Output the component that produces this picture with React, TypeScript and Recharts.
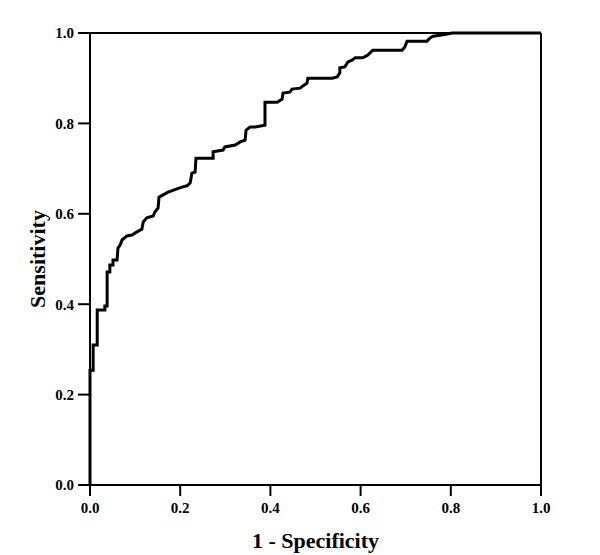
import { type FC } from "react";
import {
  LineChart,
  Line,
  XAxis,
  YAxis,
  ReferenceLine,
} from "recharts";

// ROC curve vertices
const fpr = [
  0, 0, 0.007, 0.007, 0.016, 0.016, 0.033, 0.033, 0.038, 0.038, 0.044, 0.044,
  0.051, 0.051, 0.06, 0.062, 0.067, 0.071, 0.082, 0.093, 0.104, 0.115, 0.118,
  0.126, 0.14, 0.144, 0.151, 0.153, 0.162, 0.173, 0.193, 0.204, 0.215, 0.222,
  0.226, 0.233, 0.235, 0.273, 0.273, 0.295, 0.299, 0.322, 0.333, 0.344, 0.346,
  0.355, 0.366, 0.388, 0.388, 0.415, 0.426, 0.428, 0.443, 0.448, 0.466, 0.472,
  0.481, 0.483, 0.537, 0.548, 0.554, 0.554, 0.565, 0.572, 0.581, 0.588, 0.605,
  0.616, 0.627, 0.692, 0.698, 0.703, 0.747, 0.754, 0.761, 0.783, 0.803, 1,
];
const tpr = [
  0, 0.254, 0.254, 0.31, 0.31, 0.387, 0.387, 0.396, 0.396, 0.471, 0.471, 0.487,
  0.487, 0.498, 0.498, 0.524, 0.531, 0.542, 0.551, 0.553, 0.56, 0.566, 0.582,
  0.591, 0.595, 0.604, 0.613, 0.637, 0.642, 0.648, 0.655, 0.659, 0.662, 0.668,
  0.69, 0.692, 0.723, 0.723, 0.737, 0.741, 0.748, 0.752, 0.759, 0.763, 0.785,
  0.792, 0.792, 0.796, 0.847, 0.847, 0.854, 0.867, 0.869, 0.876, 0.878, 0.883,
  0.889, 0.9, 0.9, 0.903, 0.912, 0.923, 0.925, 0.936, 0.94, 0.945, 0.945,
  0.951, 0.962, 0.962, 0.969, 0.982, 0.982, 0.989, 0.993, 0.996, 1, 1,
];
const ticks = [0, 0.2, 0.4, 0.6, 0.8, 1];

const data = fpr.map((x, i) => ({ fpr: x, tpr: tpr[i] }));

const font = "'Liberation Serif', 'Times New Roman', serif";
const tickStyle = { fill: "#000", fontSize: 15, fontWeight: 700, fontFamily: font };
const line = { stroke: "#000", strokeWidth: 2 };

const XTitle = (props: any) => {
  const vb = props.viewBox;
  return (
    <text
      x={vb.x + vb.width / 2}
      y={vb.y + 63}
      textAnchor="middle"
      fontFamily={font}
      fontWeight={700}
      fontSize={22}
      fill="#000"
    >
      1 - Specificity
    </text>
  );
};

const YTitle = (props: any) => {
  const vb = props.viewBox;
  const x = vb.x + 45;
  const y = vb.y + vb.height / 2;
  return (
    <text
      x={x}
      y={y}
      transform={`rotate(-90 ${x} ${y})`}
      textAnchor="middle"
      fontFamily={font}
      fontWeight={700}
      fontSize={22}
      fill="#000"
    >
      Sensitivity
    </text>
  );
};

const App: FC = () => {
  return (
    <div style={{ position: "absolute", left: 0, top: 0, background: "#fff" }}>
      <LineChart
        width={600}
        height={555}
        data={data}
        margin={{ top: 33, right: 59, bottom: 0, left: 0 }}
      >
        <XAxis
          type="number"
          dataKey="fpr"
          domain={[0, 1]}
          ticks={ticks}
          tickFormatter={(v) => v.toFixed(1)}
          height={70}
          tick={tickStyle}
          axisLine={line}
          tickLine={line}
          tickSize={11}
          tickMargin={6}
          label={XTitle}
        />
        <YAxis
          type="number"
          dataKey="tpr"
          domain={[0, 1]}
          ticks={ticks}
          tickFormatter={(v) => v.toFixed(1)}
          width={90}
          tick={tickStyle}
          axisLine={line}
          tickLine={line}
          tickSize={12}
          tickMargin={4}
          label={YTitle}
        />
        <ReferenceLine y={1} {...line} />
        <ReferenceLine x={1} {...line} />
        <Line
          type="linear"
          dataKey="tpr"
          stroke="#000"
          strokeWidth={3}
          dot={false}
          isAnimationActive={false}
        />
      </LineChart>
    </div>
  );
};

export default App;
